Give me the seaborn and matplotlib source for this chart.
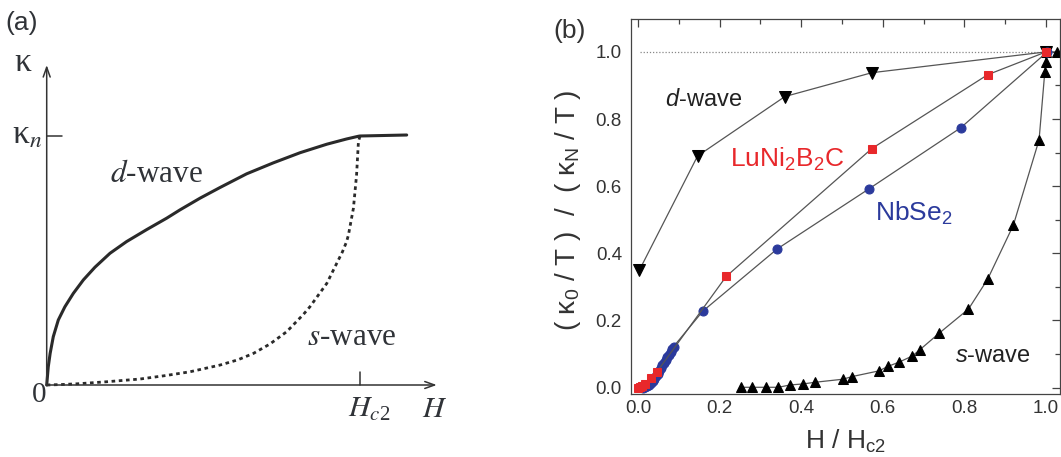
import matplotlib
matplotlib.use("Agg")
import matplotlib.pyplot as plt
import seaborn as sns
from matplotlib.ticker import MultipleLocator, FormatStrFormatter

# ---------------- data ----------------
# panel (a): schematic curves (H/Hc2, kappa/kappa_n)
dwave_H = [0.0, 0.005, 0.011, 0.021, 0.037, 0.058, 0.085, 0.117, 0.154, 0.202, 0.255,
           0.319, 0.383, 0.425, 0.489, 0.553, 0.638, 0.723, 0.809, 0.894, 0.957, 0.995,
           1.0, 1.149]
dwave_k = [0.0, 0.073, 0.127, 0.194, 0.261, 0.314, 0.368, 0.422, 0.473, 0.529, 0.576,
           0.624, 0.670, 0.703, 0.750, 0.793, 0.848, 0.892, 0.933, 0.967, 0.988, 0.999,
           1.0, 1.004]
swave_H = [0.0, 0.05, 0.1, 0.191, 0.298, 0.38, 0.457, 0.553, 0.61, 0.660, 0.713, 0.766,
           0.819, 0.840, 0.894, 0.931, 0.944, 0.957, 0.963, 0.979, 0.989, 0.995, 1.0]
swave_k = [0.0, 0.002, 0.005, 0.013, 0.024, 0.038, 0.053, 0.080, 0.101, 0.127, 0.165, 0.214,
           0.283, 0.314, 0.408, 0.502, 0.535, 0.575, 0.602, 0.710, 0.843, 0.977, 1.0]

# panel (b): measured data
dw_x = [0.003, 0.146, 0.360, 0.573, 1.000]
dw_y = [0.349, 0.690, 0.867, 0.938, 1.000]

lu_x = [0.000, 0.005, 0.010, 0.017, 0.033, 0.047, 0.216, 0.573, 0.857, 1.000]
lu_y = [0.000, 0.002, 0.005, 0.011, 0.028, 0.048, 0.331, 0.712, 0.932, 1.000]

nb_x = [0.012, 0.017, 0.022, 0.027, 0.032, 0.036, 0.040, 0.044, 0.048, 0.052, 0.056,
        0.060, 0.064, 0.068, 0.072, 0.076, 0.080, 0.084, 0.087, 0.159, 0.341, 0.566,
        0.791, 1.003]
nb_y = [0.000, 0.002, 0.004, 0.008, 0.014, 0.020, 0.027, 0.034, 0.042, 0.050, 0.058,
        0.066, 0.074, 0.082, 0.090, 0.098, 0.106, 0.114, 0.122, 0.228, 0.413, 0.592,
        0.774, 1.000]

sw_x = [0.252, 0.280, 0.313, 0.344, 0.373, 0.405, 0.434, 0.502, 0.525, 0.591, 0.612,
        0.640, 0.672, 0.690, 0.738, 0.810, 0.857, 0.920, 0.983, 0.997, 0.999, 1.000, 1.026]
sw_y = [0.001, 0.001, 0.001, 0.001, 0.008, 0.011, 0.016, 0.025, 0.033, 0.050, 0.063,
        0.076, 0.094, 0.112, 0.162, 0.234, 0.323, 0.484, 0.738, 0.940, 0.971, 1.000, 1.000]

ref_x = [0.005, 1.0]
ref_y = [1.0, 1.0]

x_ticks = [0.0, 0.2, 0.4, 0.6, 0.8, 1.0]
y_ticks = [0.0, 0.2, 0.4, 0.6, 0.8, 1.0]

# ---------------- style ----------------
sns.set_style("white")
plt.rcParams["font.family"] = ["Liberation Sans", "DejaVu Sans"]
plt.rcParams["mathtext.fontset"] = "custom"
plt.rcParams["mathtext.rm"] = "Liberation Sans"
plt.rcParams["mathtext.it"] = "Liberation Sans:italic"
plt.rcParams["mathtext.bf"] = "Liberation Sans:bold"
plt.rcParams["mathtext.default"] = "regular"

W, H = 1061, 457
fig = plt.figure(figsize=(W / 100, H / 100), dpi=100)

# ---------------- panel (a) ----------------
axa = fig.add_axes([0, 0, 450 / W, 1])
axa.set_xlim((0 - 46.7) / 313.3, (450 - 46.7) / 313.3)
axa.set_ylim((385 - 457) / 249, 385 / 249)
axa.axis("off")

dark = "#2a2a2a"
tcol = "#303338"
sns.lineplot(x=dwave_H, y=dwave_k, ax=axa, color=dark, lw=2.2, sort=False, estimator=None)
sns.lineplot(x=swave_H, y=swave_k, ax=axa, color=dark, lw=2.0, sort=False, estimator=None,
             linestyle=(0, (1.3, 1.3)))

arrow_kw = dict(arrowstyle="->,head_length=0.7,head_width=0.25", color="#333", lw=1.1,
                shrinkA=0, shrinkB=0)
axa.annotate("", xy=(0, 1.285), xytext=(0, -0.002), arrowprops=arrow_kw)
axa.annotate("", xy=(1.245, 0), xytext=(-0.002, 0), arrowprops=arrow_kw)
axa.plot([0, 0.048], [1.0, 1.0], color="#333", lw=1.1)
axa.plot([1.0, 1.0], [0, 0.053], color="#333", lw=1.1)

serif = ["Liberation Serif", "DejaVu Serif"]
axa.text(-0.079, 1.426, "(a)", fontsize=19, color=tcol, ha="center", va="baseline",
         family=["Liberation Sans", "DejaVu Sans"])
axa.text(-0.076, 1.262, "κ", fontsize=24, color=tcol, ha="center", va="baseline", family=serif)
axa.text(-0.015, 0.971, r"κ$_\mathit{n}$", fontsize=24, color=tcol, ha="right", va="baseline",
         family=serif, math_fontfamily="stix")
axa.text(-0.025, -0.068, "0", fontsize=21, color=tcol, ha="center", va="baseline", family=serif)
axa.text(0.202, 0.815, r"$\mathit{d}$-wave", fontsize=22.5, color=tcol, ha="left", va="baseline",
         family=serif, math_fontfamily="stix")
axa.text(0.831, 0.161, r"$\mathit{s}$-wave", fontsize=22.5, color=tcol, ha="left", va="baseline",
         family=serif, math_fontfamily="stix")
axa.text(1.03, -0.129, r"$\mathit{H}_{\mathit{c}2}$", fontsize=21.5, color=tcol, ha="center",
         va="baseline", family=serif, math_fontfamily="stix")
axa.text(1.239, -0.129, r"$\mathit{H}$", fontsize=21.5, color=tcol, ha="center", va="baseline",
         family=serif, math_fontfamily="stix")

# ---------------- panel (b) ----------------
L, R, T, B = 631, 1060, 19, 394
axb = fig.add_axes([L / W, (H - B) / H, (R - L) / W, (B - T) / H])
axb.set_xlim(-0.0172, 1.0343)
axb.set_ylim(-0.019, 1.098)

line_c = "#555555"
red = "#e8282b"
blue = "#2b3a9c"
lw = 0.9

sns.lineplot(x=ref_x, y=ref_y, ax=axb, color="#888888", lw=0.9, linestyle=(0, (1, 1.5)),
             sort=False, estimator=None)
sns.lineplot(x=dw_x, y=dw_y, ax=axb, color=line_c, lw=lw, sort=False, estimator=None,
             marker="v", markersize=8, markerfacecolor="black", markeredgecolor="black")
sns.lineplot(x=sw_x, y=sw_y, ax=axb, color=line_c, lw=lw, sort=False, estimator=None,
             marker="^", markersize=7.5, markerfacecolor="black", markeredgecolor="black")
sns.lineplot(x=nb_x, y=nb_y, ax=axb, color=line_c, lw=lw, sort=False, estimator=None,
             marker="o", markersize=6.5, markerfacecolor=blue, markeredgecolor=blue)
sns.lineplot(x=lu_x, y=lu_y, ax=axb, color=line_c, lw=lw, sort=False, estimator=None,
             marker="s", markersize=5.8, markerfacecolor=red, markeredgecolor=red)

axb.set_xticks(x_ticks)
axb.set_yticks(y_ticks)
axb.xaxis.set_major_formatter(FormatStrFormatter("%.1f"))
axb.yaxis.set_major_formatter(FormatStrFormatter("%.1f"))
axb.xaxis.set_minor_locator(MultipleLocator(0.1))
axb.yaxis.set_minor_locator(MultipleLocator(0.1))
axb.tick_params(which="both", direction="in", top=True, right=True, color="#444",
                labelcolor="#333", labelsize=13.5, width=0.9)
axb.tick_params(which="major", length=5.5)
axb.tick_params(which="minor", length=3.5)
axb.tick_params(axis="x", pad=4.3)
axb.tick_params(axis="y", pad=6.5)
for s in axb.spines.values():
    s.set_color("#444")
    s.set_linewidth(0.9)

axb.set_xlabel(r"H / H$_{c2}$", fontsize=19, color="#333")
axb.set_ylabel(r"( κ$_{0}$ / T )  /  ( κ$_{N}$ / T )", fontsize=20, color="#333")
axb.xaxis.set_label_coords(0.5, -0.091)
axb.yaxis.set_label_coords(-0.112, 0.49)

axb.text(0.066, 0.839, r"$\mathit{d}$-wave", fontsize=17, color="#222", ha="left", va="baseline")
axb.text(0.777, 0.077, r"$\mathit{s}$-wave", fontsize=17, color="#222", ha="left", va="baseline")
axb.text(0.225, 0.658, r"LuNi$_2$B$_2$C", fontsize=19, color=red, ha="left", va="baseline")
axb.text(0.581, 0.497, r"NbSe$_2$", fontsize=19, color=blue, ha="left", va="baseline")

fig.text(570 / W, 1 - 31 / H, "(b)", fontsize=19, color="#333", ha="center", va="center")

fig.savefig("out.png", dpi=100)
